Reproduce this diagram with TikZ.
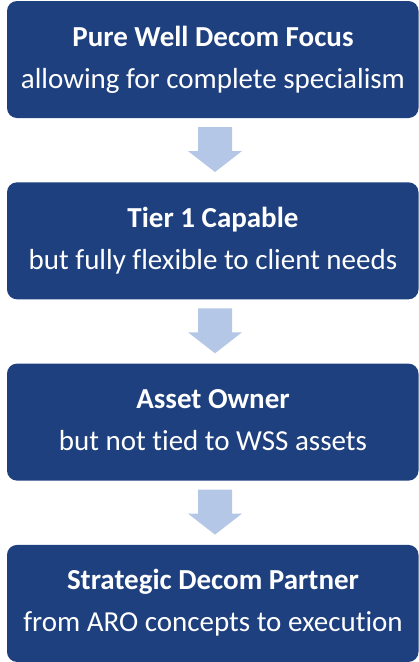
\documentclass[tikz,border=0pt]{standalone}
\usepackage{fontspec}
\setmainfont[Ligatures=NoCommon]{Carlito}
\definecolor{boxblue}{RGB}{31,64,126}
\definecolor{arrowblue}{RGB}{180,199,231}
\tikzset{
  x=1pt, y=-1pt,
  stage/.style={fill=boxblue, rounded corners=10pt},
  headline/.style={text=white, font=\fontsize{29}{29}\selectfont\bfseries, anchor=base, inner sep=0pt},
  subline/.style={text=white, font=\fontsize{29}{29}\selectfont, anchor=base, inner sep=0pt},
  downarrow/.style={fill=arrowblue}
}
\begin{document}
\begin{tikzpicture}
\useasboundingbox (0,0) rectangle (419,662);

% four stages, each 117 units tall, 181 units apart
\foreach \i/\head/\sub in {
  0/Pure Well Decom Focus/allowing for complete specialism,
  1/Tier 1 Capable/but fully flexible to client needs,
  2/Asset Owner/but not tied to WSS assets,
  3/Strategic Decom Partner/from ARO concepts to execution}{
  \pgfmathsetmacro{\top}{1+181.3*\i}
  \fill[stage] (7,\top) rectangle (418.5,\top+117) coordinate (stage\i);
  \node[headline] (head\i) at (213,\top+45) {\head};
  \node[subline] (sub\i) at (213,\top+87) {\sub};
}

% block arrows between the stages
\foreach \i in {0,1,2}{
  \pgfmathsetmacro{\top}{127+181.3*\i}
  \fill[downarrow] (198,\top) -- (232,\top) -- (232,\top+24) -- (242,\top+24)
    -- (215,\top+45) -- (188,\top+24) -- (198,\top+24) -- cycle;
}
\end{tikzpicture}
\end{document}
